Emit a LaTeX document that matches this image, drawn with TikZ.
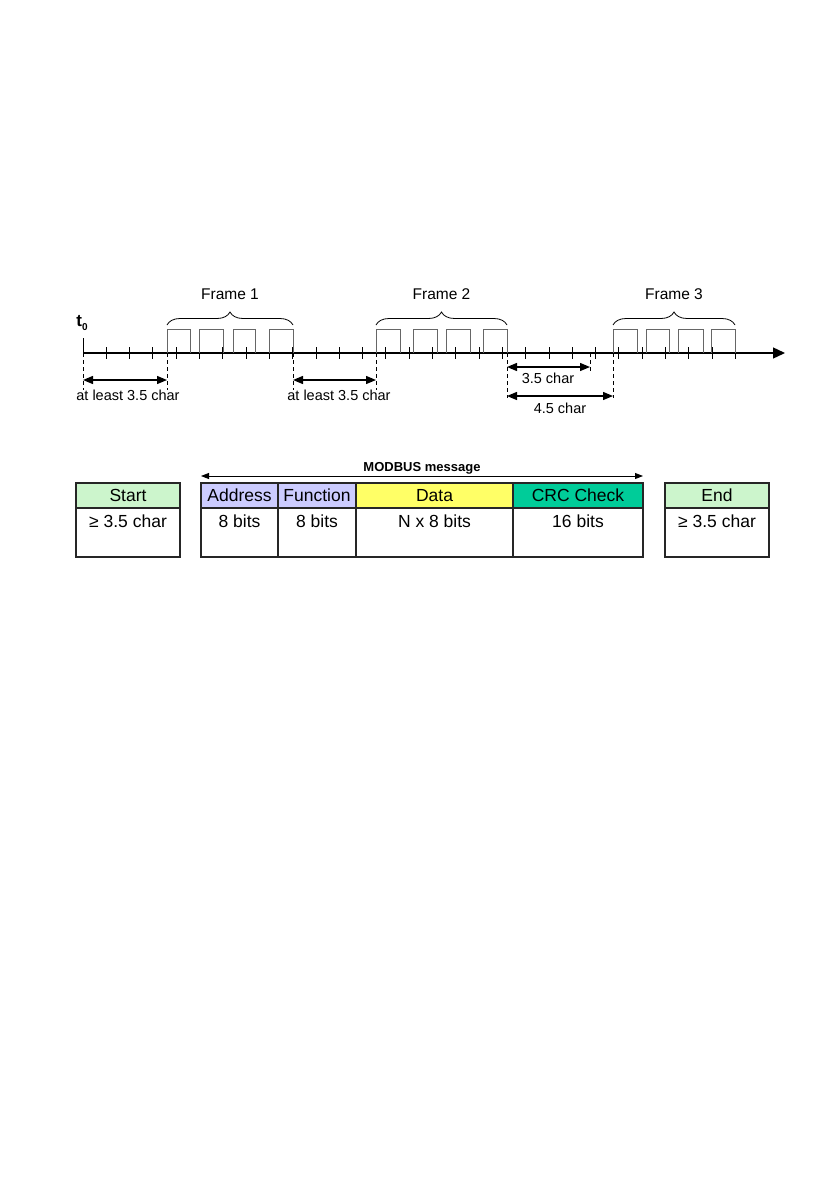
\documentclass[tikz,border=0pt]{standalone}
\usepackage{fontspec}
\setmainfont{Liberation Sans}
\usepackage{xcolor}
\usetikzlibrary{arrows.meta, positioning, calc, decorations.pathreplacing}

\definecolor{startgreen}{RGB}{204,245,204}
\definecolor{addrblue}{RGB}{204,204,255}
\definecolor{datayellow}{RGB}{255,255,102}
\definecolor{crcgreen}{RGB}{0,204,153}

\tikzset{
	axtick/.style={line width=0.9pt},
	pulse/.style={line width=0.8pt, black!60},
	guide/.style={line width=0.8pt, dash pattern=on 4pt off 3pt},
	gap/.style={{Triangle[length=10pt,width=8pt]}-{Triangle[length=10pt,width=8pt]}, line width=1.3pt},
	gaplabel/.style={font=\fontsize{14.5}{16}\selectfont, inner sep=0pt},
	framebrace/.style={decorate, decoration={brace, amplitude=13pt}, line width=0.8pt},
	framelabel/.style={font=\fontsize{15.5}{18}\selectfont},
	cellhead/.style={draw=black!85, line width=1.1pt, outer sep=0pt, minimum height=25pt, inner sep=0pt, font=\fontsize{17.5}{20}\selectfont},
	cellbody/.style={draw=black!85, line width=1.1pt, outer sep=0pt, minimum height=49pt, inner sep=0pt},
	celltext/.style={anchor=north, font=\fontsize{17.5}{20}\selectfont}
}

\begin{document}
\begin{tikzpicture}[x=1pt, y=-1pt]
	\useasboundingbox (0,0) rectangle (839,1191);
	
	% Time axis
	\coordinate (t0) at (83,353);
	\coordinate (tend) at (785,353);
	\coordinate (f1s) at (167,353);
	\coordinate (f1e) at (293,353);
	\coordinate (f2s) at (376,353);
	\coordinate (f2e) at (507,353);
	\coordinate (c35) at (590,353);
	\coordinate (f3s) at (613,353);
	\coordinate (f3e) at (735,353);
	\draw[line width=1.3pt, -{Triangle[length=12pt,width=11pt]}] (t0) -- (tend);
	\draw[axtick] (t0) -- ++(0,-15);
	\foreach \k in {1,...,28}
		\draw[axtick] (83+23.3*\k,347) -- (83+23.3*\k,359);
	\node[font=\fontsize{17}{19}\selectfont\bfseries, inner sep=0pt] (tzero) at (82,323) {t\raisebox{-0.35ex}{\fontsize{10}{11}\selectfont 0}};
	
	% Frames
	\foreach \a/\b in {167/190, 199/223, 233/255, 269/293,
		376/400, 413/437, 446/470, 483/507,
		613/637, 646/669, 678/703, 711/735}
		\draw[pulse] (\a,353) |- (\b,329) -- (\b,353);
	\draw[framebrace] ($(f1s)+(0,-28)$) -- ($(f1e)+(0,-28)$) node[midway, above=22pt, framelabel] (fr1) {Frame 1};
	\draw[framebrace] ($(f2s)+(0,-28)$) -- ($(f2e)+(0,-28)$) node[midway, above=22pt, framelabel] (fr2) {Frame 2};
	\draw[framebrace] ($(f3s)+(0,-28)$) -- ($(f3e)+(0,-28)$) node[midway, above=22pt, framelabel] (fr3) {Frame 3};
	
	% Silent intervals
	\foreach \p in {t0, f1s, f1e, f2s}
		\draw[guide] (\p) -- ++(0,37);
	\foreach \p in {f2e, f3s}
		\draw[guide] (\p) -- ++(0,45);
	\draw[guide] (c35) -- ++(0,19);
	\draw[gap] ($(t0)+(0,27)$) -- ($(f1s)+(0,27)$);
	\node[gaplabel] (gap1) at (128,395) {at least 3.5 char};
	\draw[gap] ($(f1e)+(0,27)$) -- ($(f2s)+(0,27)$);
	\node[gaplabel] (gap2) at (339,395) {at least 3.5 char};
	\draw[gap] ($(f2e)+(0,14)$) -- ($(c35)+(0,14)$);
	\node[gaplabel] (gap3) at (548,378) {3.5 char};
	\draw[gap] ($(f2e)+(0,43)$) -- ($(f3s)+(0,43)$);
	\node[gaplabel] (gap4) at (560,408) {4.5 char};
	
	% Message layout
	\node[cellhead, fill=startgreen, minimum width=104pt] (start) at (128,495.5) {Start};
	\node[cellbody, minimum width=104pt, below=0pt of start] (startb) {};
	\node[cellhead, fill=addrblue, minimum width=77pt] (addr) at (239.5,495.5) {Address};
	\node[cellbody, minimum width=77pt, below=0pt of addr] (addrb) {};
	\node[cellhead, fill=addrblue, minimum width=78pt, right=0pt of addr] (func) {Function};
	\node[cellbody, minimum width=78pt, below=0pt of func] (funcb) {};
	\node[cellhead, fill=datayellow, minimum width=157pt, right=0pt of func] (data) {Data};
	\node[cellbody, minimum width=157pt, below=0pt of data] (datab) {};
	\node[cellhead, fill=crcgreen, minimum width=130pt, right=0pt of data] (crc) {CRC Check};
	\node[cellbody, minimum width=130pt, below=0pt of crc] (crcb) {};
	\node[cellhead, fill=startgreen, minimum width=104pt] (stop) at (717,495.5) {End};
	\node[cellbody, minimum width=104pt, below=0pt of stop] (stopb) {};
	
	\node[celltext] (startt) at ([yshift=-3pt]startb.north) {≥ 3.5 char};
	\node[celltext] (addrt) at ([yshift=-3pt]addrb.north) {8 bits};
	\node[celltext] (funct) at ([yshift=-3pt]funcb.north) {8 bits};
	\node[celltext] (datat) at ([yshift=-3pt]datab.north) {N x 8 bits};
	\node[celltext] (crct) at ([yshift=-3pt]crcb.north) {16 bits};
	\node[celltext] (stopt) at ([yshift=-3pt]stopb.north) {≥ 3.5 char};
	
	% MODBUS message span
	\coordinate (msgl) at ($(addr.north west)+(0,-7)$);
	\coordinate (msgr) at ($(crc.north east)+(0,-7)$);
	\draw[line width=0.9pt, {Triangle[length=8pt,width=6pt]}-{Triangle[length=8pt,width=6pt]}] (msgl) -- (msgr);
	\node[font=\fontsize{13}{15}\selectfont\bfseries, inner sep=0pt, anchor=south] (msg) at ($(msgl)!0.5!(msgr)+(0,-2)$) {MODBUS message};
	
\end{tikzpicture}
\end{document}
